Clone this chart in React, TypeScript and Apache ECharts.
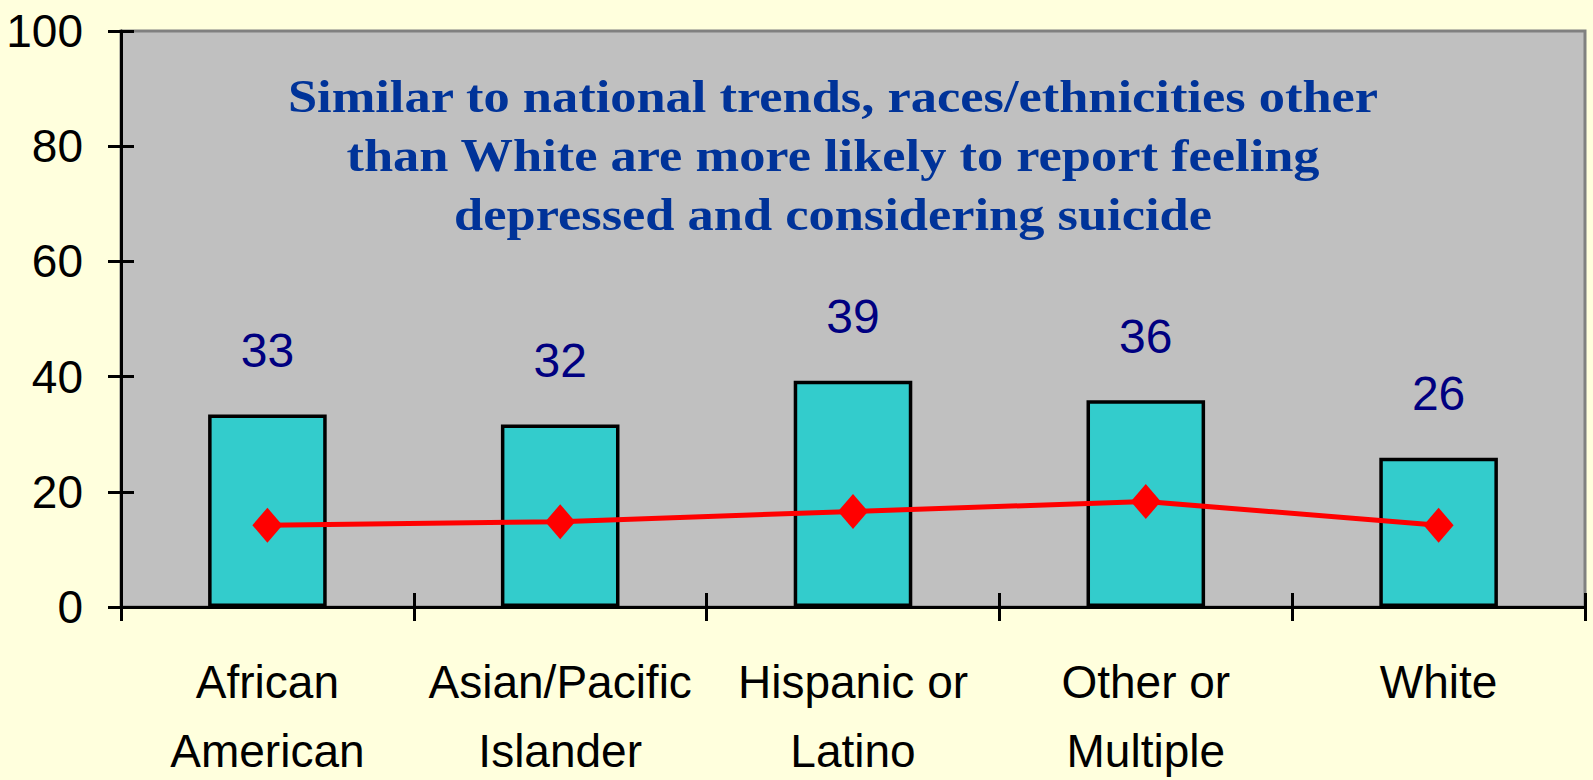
import React, { useEffect, useRef } from "react";
import * as echarts from "echarts";

const categories = [
  "African\nAmerican",
  "Asian/Pacific\nIslander",
  "Hispanic or\nLatino",
  "Other or\nMultiple",
  "White",
];
const barValues = [33.4, 31.7, 39.3, 35.9, 25.9];
const lineValues = [14.2, 14.8, 16.6, 18.3, 14.2];
const yMin = 0;
const yMax = 100;
const yStep = 20;
const titleLines = [
  "Similar to national trends, races/ethnicities other",
  "than White are more likely to report feeling",
  "depressed and considering suicide",
];

export default function App() {
  const ref = useRef<HTMLDivElement>(null);
  useEffect(() => {
    if (!ref.current) return;
    const chart = echarts.init(ref.current, undefined, { renderer: "svg" });
    const sans = "Liberation Sans, Arial, sans-serif";
    chart.setOption({
      animation: false,
      backgroundColor: "#FFFFDD",
      grid: {
        left: 121,
        right: 8,
        top: 31,
        bottom: 173,
        containLabel: false,
        outerBoundsMode: "none",
        show: true,
        backgroundColor: "#C0C0C0",
        borderColor: "#808080",
        borderWidth: 3,
      },
      graphic: [
        {
          type: "text",
          x: 833,
          y: 67,
          z: 100,
          scaleX: 1.14,
          style: {
            text: titleLines.join("\n"),
            textAlign: "center",
            textVerticalAlign: "top",
            fontFamily: "Liberation Serif, serif",
            fontWeight: "bold",
            fontSize: 46,
            lineHeight: 59,
            fill: "#003399",
          },
        },
      ],
      xAxis: [
        {
          type: "category",
          data: categories,
          position: "bottom",
          boundaryGap: true,
          axisLine: { show: true, lineStyle: { color: "#000", width: 3 } },
          axisTick: {
            show: true,
            inside: false,
            length: 14,
            alignWithLabel: false,
            lineStyle: { color: "#000", width: 3 },
          },
          axisLabel: {
            show: true,
            interval: 0,
            margin: 40,
            color: "#000",
            fontFamily: sans,
            fontSize: 46,
            lineHeight: 69,
          },
          splitLine: { show: false },
        },
        {
          type: "category",
          data: categories,
          position: "bottom",
          boundaryGap: true,
          axisLine: { show: false },
          axisTick: {
            show: true,
            inside: true,
            length: 14,
            alignWithLabel: false,
            lineStyle: { color: "#000", width: 3 },
          },
          axisLabel: { show: false },
          splitLine: { show: false },
        },
      ],
      yAxis: [
        {
          type: "value",
          min: yMin,
          max: yMax,
          interval: yStep,
          position: "left",
          axisLine: { show: true, lineStyle: { color: "#000", width: 3 } },
          axisTick: {
            show: true,
            inside: false,
            length: 13,
            lineStyle: { color: "#000", width: 3 },
          },
          axisLabel: {
            show: true,
            margin: 38,
            color: "#000",
            fontFamily: sans,
            fontSize: 46,
          },
          splitLine: { show: false },
        },
        {
          type: "value",
          min: yMin,
          max: yMax,
          interval: yStep,
          position: "left",
          axisLine: { show: false },
          axisTick: {
            show: true,
            inside: true,
            length: 13,
            lineStyle: { color: "#000", width: 3 },
          },
          axisLabel: { show: false },
          splitLine: { show: false },
        },
      ],
      series: [
        {
          type: "bar",
          xAxisIndex: 0,
          yAxisIndex: 0,
          data: barValues,
          barWidth: "40.5%",
          itemStyle: { color: "#33CCCC", borderColor: "#000", borderWidth: 3.5 },
          label: {
            show: true,
            position: "top",
            distance: 40,
            color: "#000080",
            fontFamily: sans,
            fontSize: 48,
            lineHeight: 48,
            formatter: (p: any) => String(Math.round(p.value)),
          },
          z: 2,
        },
        {
          type: "line",
          xAxisIndex: 0,
          yAxisIndex: 0,
          data: lineValues,
          symbol: "diamond",
          symbolSize: [30, 35],
          lineStyle: { color: "#FF0000", width: 5 },
          itemStyle: { color: "#FF0000" },
          z: 3,
        },
      ],
    });
    return () => chart.dispose();
  }, []);
  return (
    <div
      ref={ref}
      style={{ position: "fixed", left: 0, top: 0, width: 1593, height: 780 }}
    />
  );
}
